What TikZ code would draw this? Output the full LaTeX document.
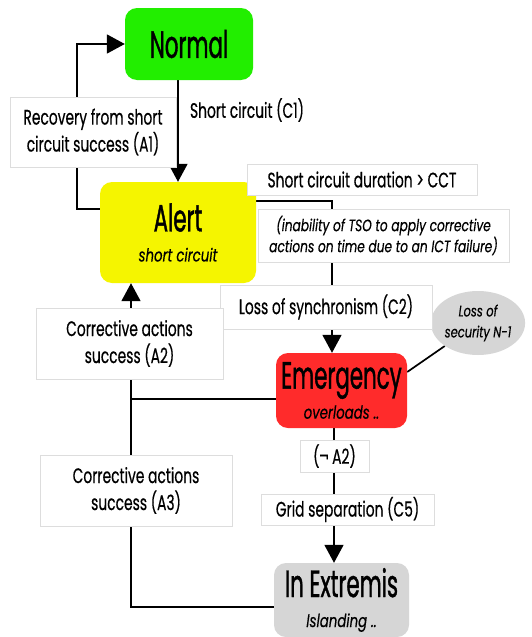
\documentclass[tikz,border=0pt]{standalone}
\usepackage{fontspec}
\setmainfont{Poppins}[FakeStretch=0.66, FakeBold=0.4]
\newfontfamily\titlefam{Poppins}[FakeStretch=0.562, FakeBold=1]
\newfontfamily\italfam{Poppins}[FakeStretch=0.74, FakeBold=0.4]
\usetikzlibrary{arrows.meta,shapes.geometric,backgrounds}
\definecolor{stnormal}{HTML}{22EE00}
\definecolor{stalert}{HTML}{F5F500}
\definecolor{stemerg}{HTML}{FF2B2B}
\definecolor{stextrem}{HTML}{D6D6D6}
\definecolor{boxline}{HTML}{DDDDDD}
\newcommand{\titlefont}{\titlefam\fontsize{38}{40}\selectfont}
\newcommand{\subfont}{\italfam\itshape\fontsize{18}{30}\selectfont}
\newcommand{\lblfont}{\fontsize{21}{27}\selectfont}
\newcommand{\notefont}{\italfam\itshape\fontsize{16.5}{21}\selectfont}
\tikzset{
  state/.style={rounded corners=12pt, inner sep=0pt, align=center, font={\fontsize{18}{30}\selectfont}},
  lbl/.style={fill=white, draw=boxline, line width=0.8pt, inner sep=0pt, align=center, font=\lblfont},
  conn/.style={line width=1.7pt, black},
  arr/.style={conn, -{Triangle[width=19pt,length=18pt]}},
}
\begin{document}
\begin{tikzpicture}[x=1pt,y=-1pt]
\useasboundingbox (0,0) rectangle (531,637);

% states
\node[state, fill=stnormal, minimum width=128pt, minimum height=72pt] (normal) at (189,44) {\titlefont Normal};
\node[state, fill=stalert, minimum width=156pt, minimum height=101pt] (alert) at (178,232.5)
  {{\titlefont Alert}\\{\subfont short circuit}};
\node[state, fill=stemerg, minimum width=131pt, minimum height=75pt] (emerg) at (341.5,390.5)
  {{\titlefont Emergency}\\{\subfont overloads ..}};
\node[state, fill=stextrem, minimum width=135pt, minimum height=74pt] (extrem) at (341.5,600)
  {{\titlefont In Extremis}\\{\subfont Islanding ..}};
\node[ellipse, fill=stextrem, minimum width=91pt, minimum height=64pt, inner sep=0pt, align=center,
  font={\italfam\itshape\fontsize{15.5}{21}\selectfont}] (loss) at (478,323) {Loss of\\security N-1};

% transition labels
\node[font=\lblfont, inner sep=0pt] (c1) at (247,110) {Short circuit (C1)};
\node[lbl, minimum width=166pt, minimum height=70pt] (a1) at (93,132) {Recovery from short\\circuit success (A1)};
\node[lbl, minimum width=230pt, minimum height=31pt] (cct) at (362,179.5) {Short circuit duration > CCT};
\node[lbl, minimum width=251pt, minimum height=53pt, font=\notefont] (tso) at (383.5,235.5)
  {(inability of TSO to apply corrective\\actions on time due to an ICT failure)};
\node[lbl, minimum width=212pt, minimum height=44pt] (c2) at (326,307) {Loss of synchronism (C2)};
\node[lbl, minimum width=187pt, minimum height=71pt] (a2) at (129.5,343.5) {Corrective actions\\success (A2)};
\node[lbl, minimum width=69pt, minimum height=32pt] (na2) at (334.5,456) {(¬ A2)};
\node[lbl, minimum width=173pt, minimum height=31pt] (c5) at (347.5,509.5) {Grid separation (C5)};
\node[lbl, minimum width=192pt, minimum height=71pt] (a3) at (136,490.5) {Corrective actions\\success (A3)};

% connectors, kept underneath the labels
\begin{scope}[on background layer]
  \fill[white] (0,0) rectangle (531,637);
  \coordinate (alertR) at ([yshift=31.5pt]alert.east);
  \coordinate (alertL) at ([yshift=23.5pt]alert.west);
  \coordinate (alertB) at ([xshift=-47pt]alert.south);
  \coordinate (emergT) at ([xshift=-9.5pt]emerg.north);
  \coordinate (emergB) at ([xshift=-7.5pt]emerg.south);
  \coordinate (emergL) at ([yshift=-8.5pt]emerg.west);
  \coordinate (emergR) at ([yshift=18.5pt]emerg.east);
  \coordinate (extremL) at ([yshift=-7pt]extrem.west);
  \coordinate (join) at (alertB |- emergL);

  \draw[arr] (alert.north |- normal.south) -- (alert.north);
  \draw[arr] (alertL) -- ++(-23,0) |- (normal.west);
  \draw[arr] (alertR) -| (emergT);
  \draw[arr] (extremL) -| (alertB);
  \draw[conn] (emergL) -- (join);
  \draw[arr] (emergB) -- (emergB |- extrem.north);
  \draw[conn] (emergR) -- (loss);
\end{scope}
\end{tikzpicture}
\end{document}
